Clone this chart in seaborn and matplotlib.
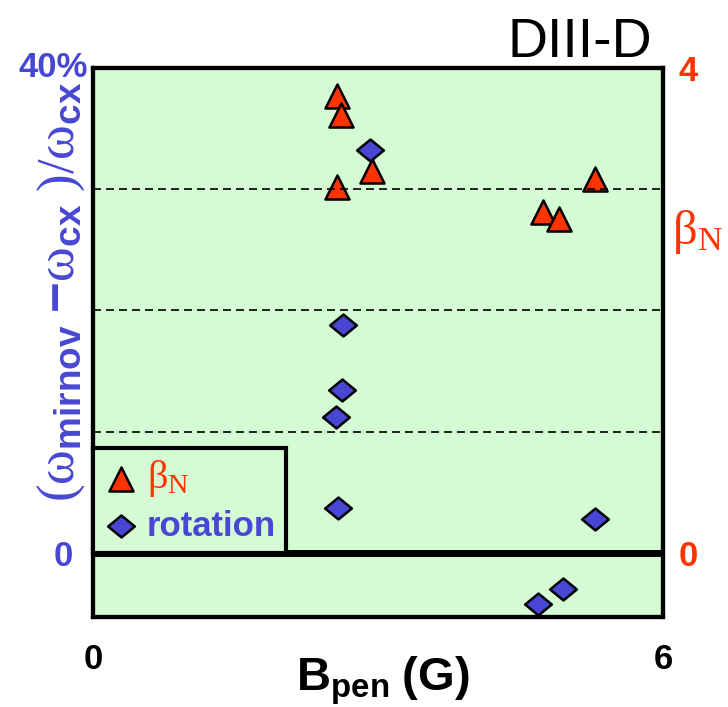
import matplotlib
matplotlib.use("Agg")
import matplotlib.pyplot as plt
import seaborn as sns
import pandas as pd
from matplotlib.path import Path
from matplotlib.transforms import blended_transform_factory

# ---- data ----
b_pen_beta = [2.57, 2.61, 2.94, 2.57, 4.74, 4.90, 5.28]
beta_n = [3.77, 3.61, 3.15, 3.02, 2.81, 2.75, 3.08]

b_pen_rot = [2.92, 2.63, 2.62, 2.56, 2.58, 5.28, 4.95, 4.68]
rotation_pct = [33.2, 18.8, 13.4, 11.2, 3.75, 2.8, -2.97, -4.18]

x_ticks = [0, 6]
x_ticklabels = ["0", "6"]
left_ticks = [0, 40]
left_ticklabels = ["0", "40%"]
right_ticks = [0, 4]
right_ticklabels = ["0", "4"]
grid_levels = [10, 20, 30]

# ---- style ----
sns.set_theme(style="white")
plt.rcParams["font.family"] = ["Liberation Sans", "DejaVu Sans"]
plt.rcParams["mathtext.fontset"] = "custom"
plt.rcParams["mathtext.rm"] = "Liberation Serif"
plt.rcParams["mathtext.it"] = "Liberation Serif:italic"
plt.rcParams["mathtext.bf"] = "Liberation Sans:bold"
plt.rcParams["mathtext.sf"] = "Liberation Sans"

GREEN = "#D5FBD5"
BLUE = "#4747D3"
RED = "#FF3300"

diamond = Path([(-1, 0), (0, 0.82), (1, 0), (0, -0.82), (-1, 0)],
               [Path.MOVETO, Path.LINETO, Path.LINETO, Path.LINETO, Path.CLOSEPOLY])

fig = plt.figure(figsize=(7.28, 7.07), dpi=100)
ax = fig.add_axes([93 / 728, 1 - 616.5 / 707, 570 / 728, 548.8 / 707])
ax2 = ax.twinx()

ax.set_zorder(ax2.get_zorder() + 1)
ax.patch.set_visible(False)
ax2.patch.set_visible(True)
ax2.patch.set_facecolor(GREEN)

df_beta = pd.DataFrame({"B": b_pen_beta, "beta": beta_n})
df_rot = pd.DataFrame({"B": b_pen_rot, "rot": rotation_pct})

sns.scatterplot(data=df_beta, x="B", y="beta", ax=ax2, marker="^", s=300,
                color=RED, edgecolor="black", linewidth=1.8, zorder=2,
                label=r"$\mathrm{\beta}_{\mathrm{N}}$", legend=False)
sns.scatterplot(data=df_rot, x="B", y="rot", ax=ax, marker=diamond, s=370,
                color=BLUE, edgecolor="black", linewidth=1.8, zorder=2,
                label="rotation", legend=False)

for lv in grid_levels:
    ax.axhline(lv, color="black", lw=1.2, dashes=(4.8, 3.0), zorder=3)
ax.axhline(0, color="black", lw=5, zorder=4)

ymin_pct = -5.234
ax.set_xlim(0, 6)
ax.set_ylim(ymin_pct, 40)
ax2.set_ylim(ymin_pct / 10, 4)

# ticks
ax.set_xticks(x_ticks, x_ticklabels)
ax.tick_params(axis="x", length=0, pad=19, labelsize=25, labelcolor="black")
for t in ax.get_xticklabels():
    t.set_fontweight("bold")
ax.set_yticks([])
trans = blended_transform_factory(ax.transAxes, ax.transData)
ax.text(-0.035, left_ticks[0], left_ticklabels[0], transform=trans, ha="right",
        va="center_baseline", fontsize=25, fontweight="bold", color=BLUE)
ax.text(-0.009, left_ticks[1], left_ticklabels[1], transform=trans, ha="right",
        va="center", fontsize=25, fontweight="bold", color=BLUE)

ax2.set_yticks(right_ticks, right_ticklabels)
ax2.tick_params(axis="y", length=0, pad=11, labelsize=25, labelcolor=RED)
for t in ax2.get_yticklabels():
    t.set_fontweight("bold")

for a in (ax, ax2):
    for sp in a.spines.values():
        sp.set_linewidth(3)
        sp.set_color("black")

# labels
ax.set_xlabel(r"$\mathbf{B_{pen}\ (G)}$", fontsize=34, color="black")
ax.xaxis.set_label_coords(0.508, -0.07)
ax.set_ylabel(r"$(\mathrm{\omega}_{\mathbf{mirnov}}\ \mathbf{-}\mathrm{\omega}_{\mathbf{cx}}\ )/\mathrm{\omega}_{\mathbf{cx}}$",
              fontsize=38, color=BLUE)
ax.yaxis.set_label_coords(-0.01, 0.592)
ax2.set_ylabel("")

ax.text(1.016, 0.70, r"$\mathrm{\beta}_{\mathrm{N}}$", transform=ax.transAxes,
        ha="left", va="center", fontsize=35, color=RED)

fig.text(0.797, 0.919, "DIII-D", ha="center", va="baseline", fontsize=40,
         color="black")

# legend
handles = [ax2.collections[0], ax.collections[0]]
labels = [r"$\mathrm{\beta}_{\mathrm{N}}$", "rotation"]
zero_frac = (0 - ymin_pct) / (40 - ymin_pct)
leg = ax.legend(handles, labels, loc="lower left", bbox_to_anchor=(0, zero_frac),
                bbox_transform=ax.transAxes, borderaxespad=0, borderpad=0.3,
                handlelength=1.0, handletextpad=0.25, labelspacing=0.3,
                scatterpoints=1, frameon=True, fancybox=False,
                prop={"family": "Liberation Sans", "weight": "bold", "size": 25})
leg.get_frame().set_edgecolor("black")
leg.get_frame().set_facecolor(GREEN)
leg.get_frame().set_alpha(1)
leg.get_frame().set_linewidth(3)
leg.set_zorder(5)
txts = leg.get_texts()
txts[0].set_color(RED)
txts[0].set_fontsize(29)
txts[1].set_color(BLUE)

fig.savefig("out.png", dpi=100)
